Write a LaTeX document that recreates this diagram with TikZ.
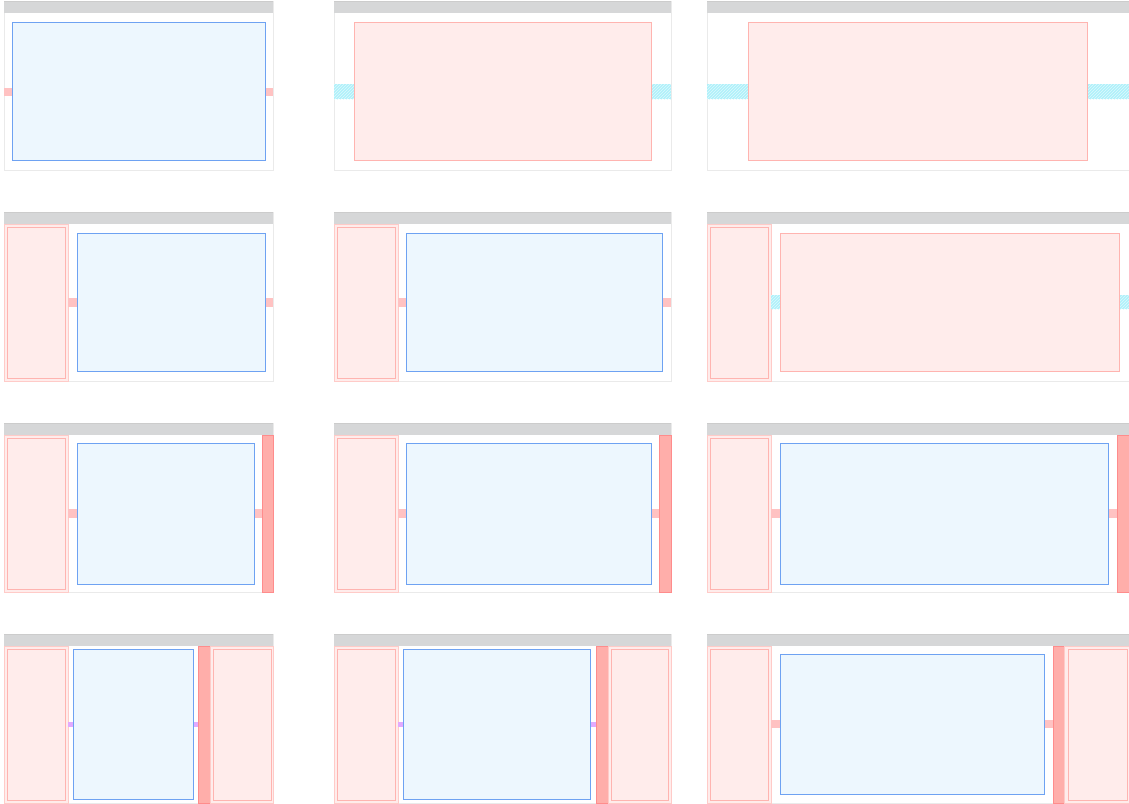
\documentclass[tikz,border=0pt]{standalone}
\usetikzlibrary{patterns}

\definecolor{rimgray}{HTML}{EAEAEA}
\definecolor{headgray}{HTML}{D6D7D8}
\definecolor{headline}{HTML}{CCCCCC}
\definecolor{bluefill}{HTML}{EDF7FE}
\definecolor{blueline}{HTML}{6EA2F2}
\definecolor{pinkfill}{HTML}{FFECEB}
\definecolor{pinkline}{HTML}{FFB4B0}
\definecolor{gutred}{HTML}{FFC2C2}
\definecolor{gutcyan}{HTML}{AEF1FA}
\definecolor{gutpurple}{HTML}{E2AAFF}
\definecolor{barfill}{HTML}{FFAEAA}
\definecolor{barline}{HTML}{FF8C8C}

\tikzset{
  frame/.style={draw=rimgray, line width=0.8pt},
  header/.style={fill=headgray},
  mainbox/.style={fill=bluefill, draw=blueline, line width=0.8pt},
  pinkbox/.style={fill=pinkfill, draw=pinkline, line width=0.8pt},
  sidebar/.style={fill=pinkfill, draw=pinkline!70, line width=0.8pt},
  sideinner/.style={draw=pinkline, line width=0.8pt},
  gutter/.style={fill=gutred},
  gutpink/.style={fill=gutpurple},
  bar/.style={fill=barfill, draw=barline, line width=0.8pt},
}

\newcommand{\hatchgap}[4]{%
  \fill[gutcyan] (#1,#2) rectangle (#3,#4);
  \fill[pattern=north east lines, pattern color=white!60!gutcyan] (#1,#2) rectangle (#3,#4);
}

\begin{document}
\begin{tikzpicture}[x=1pt,y=-1pt]
\useasboundingbox (0,0) rectangle (1129,803);

% frames and title bars
\foreach \y in {1,212,423,634} {
\draw[frame] (4,\y) rectangle (273,\y+169);
\draw[frame] (334,\y) rectangle (671,\y+169);
\draw[frame] (707,\y) rectangle (1130,\y+169);
\fill[header] (4,\y) rectangle (273,\y+12);
\fill[header] (334,\y) rectangle (671,\y+12);
\fill[header] (707,\y) rectangle (1129,\y+12);
\draw[headline] (4,\y) -- (273,\y);
\draw[headline] (334,\y) -- (671,\y);
\draw[headline] (707,\y) -- (1129,\y);
}

% row 1
\fill[gutter] (4,88) rectangle (12,96);
\fill[gutter] (265,88) rectangle (273,96);
\draw[mainbox] (12,22) rectangle (265,160);

\hatchgap{334}{84}{354}{99}
\hatchgap{651}{84}{671}{99}
\draw[pinkbox] (354,22) rectangle (651,160);

\hatchgap{707}{84}{748}{99}
\hatchgap{1087}{84}{1129}{99}
\draw[pinkbox] (748,22) rectangle (1087,160);

% row 2
\foreach \x in {4,334,707} {
\draw[sidebar] (\x,224) rectangle (\x+64,381);
\draw[sideinner] (\x+3,227) rectangle (\x+61,378);
}
\fill[gutter] (68,298) rectangle (77,307);
\fill[gutter] (265,298) rectangle (273,307);
\draw[mainbox] (77,233) rectangle (265,371);

\fill[gutter] (398,298) rectangle (406,307);
\fill[gutter] (662,298) rectangle (671,307);
\draw[mainbox] (406,233) rectangle (662,371);

\hatchgap{771}{295}{780}{309}
\hatchgap{1119}{295}{1129}{309}
\draw[pinkbox] (780,233) rectangle (1119,371);

% row 3
\foreach \x in {4,334,707} {
\draw[sidebar] (\x,435) rectangle (\x+64,592);
\draw[sideinner] (\x+3,438) rectangle (\x+61,589);
}
\fill[gutter] (68,509) rectangle (77,518);
\fill[gutter] (254,509) rectangle (262,518);
\draw[mainbox] (77,443) rectangle (254,584);
\draw[bar] (262,435) rectangle (273,592);

\fill[gutter] (398,509) rectangle (406,518);
\fill[gutter] (651,509) rectangle (659,518);
\draw[mainbox] (406,443) rectangle (651,584);
\draw[bar] (659,435) rectangle (671,592);

\fill[gutter] (771,509) rectangle (780,518);
\fill[gutter] (1108,509) rectangle (1117,518);
\draw[mainbox] (780,443) rectangle (1108,584);
\draw[bar] (1117,435) rectangle (1129.5,592);

% row 4
\foreach \x in {4,334,707} {
\draw[sidebar] (\x,646) rectangle (\x+64,803);
\draw[sideinner] (\x+3,649) rectangle (\x+61,800);
}
\fill[gutpink] (68,722) rectangle (73,727);
\fill[gutpink] (193,722) rectangle (198,727);
\draw[mainbox] (73,649) rectangle (193,799);
\draw[bar] (198,646) rectangle (210,803);
\draw[sidebar] (210,646) rectangle (273,803);
\draw[sideinner] (213,649) rectangle (271,800);

\fill[gutpink] (398,722) rectangle (403,727);
\fill[gutpink] (590,722) rectangle (596,727);
\draw[mainbox] (403,649) rectangle (590,799);
\draw[bar] (596,646) rectangle (608,803);
\draw[sidebar] (608,646) rectangle (671,803);
\draw[sideinner] (611,649) rectangle (668,800);

\fill[gutter] (771,720) rectangle (780,728);
\fill[gutter] (1044,720) rectangle (1053,728);
\draw[mainbox] (780,654) rectangle (1044,794);
\draw[bar] (1053,646) rectangle (1064,803);
\draw[sidebar] (1064,646) rectangle (1130,803);
\draw[sideinner] (1068,649) rectangle (1127,800);

\end{tikzpicture}
\end{document}
